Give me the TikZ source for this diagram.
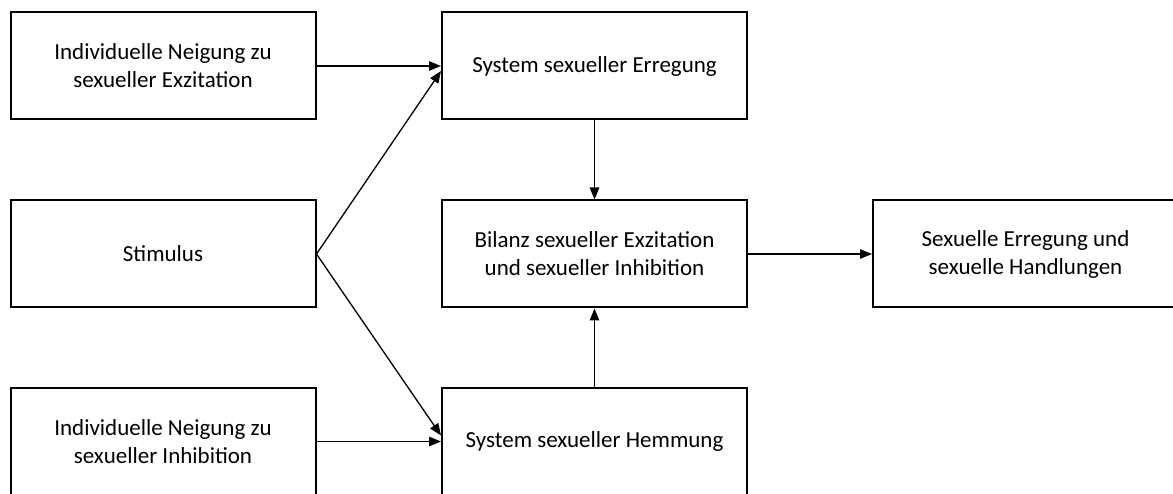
\documentclass[tikz,border=0pt]{standalone}
\usepackage{fontspec}
\setmainfont{Carlito}
\usetikzlibrary{arrows.meta}
\begin{document}
\begin{tikzpicture}[x=1pt,y=-1pt,
  box/.style={draw=black, line width=2pt, minimum width=305pt, minimum height=107pt,
    inner sep=0pt, align=center, font=\fontsize{23pt}{28pt}\selectfont},
  link/.style={line width=1.3pt, -{Triangle[length=12pt,width=9.5pt]}}]
  \useasboundingbox (0,0) rectangle (1173,494);
  \clip (0,0) rectangle (1173,494);
  % left column
  \node[box] (A) at (163,66)    {Individuelle Neigung zu\\sexueller Exzitation};
  \node[box] (B) at (163,254)   {Stimulus};
  \node[box] (C) at (163,441.5) {Individuelle Neigung zu\\sexueller Inhibition};
  % middle column
  \node[box] (D) at (594.5,66)    {System sexueller Erregung};
  \node[box] (E) at (594.5,254)   {Bilanz sexueller Exzitation\\und sexueller Inhibition};
  \node[box] (F) at (594.5,441.5) {System sexueller Hemmung};
  % outcome
  \node[box] (G) at (1025.5,254) {Sexuelle Erregung und\\sexuelle Handlungen};
  % connectors
  \draw[link] (A.east) -- (D.west);
  \draw[link] (C.east) -- (F.west);
  \draw[link] (B.east) -- ([yshift=-5pt]D.west);
  \draw[link] (B.east) -- ([yshift=6pt]F.west);
  \draw[link] (D.south) -- (E.north);
  \draw[link] (F.north) -- (E.south);
  \draw[link] (E.east) -- (G.west);
\end{tikzpicture}
\end{document}
